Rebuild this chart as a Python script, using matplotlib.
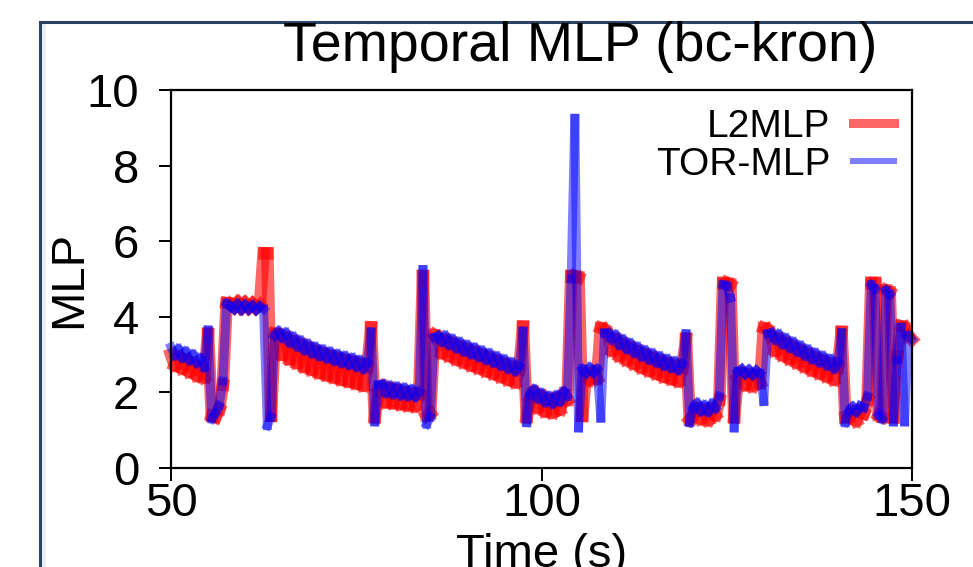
import numpy as np
import matplotlib
matplotlib.use("Agg")
import matplotlib.pyplot as plt
from matplotlib.collections import LineCollection
from matplotlib.lines import Line2D
from matplotlib.patches import Rectangle

plt.rcParams['font.family'] = ['Liberation Sans', 'DejaVu Sans']

# time axis: one sample every 0.5 s from 50 to 150
time_s = np.arange(50, 150.25, 0.5)

# TOR-MLP (blue)
tor_mlp = [
    3.20, 2.98, 3.15, 2.92, 3.08, 2.85, 3.00, 2.78, 2.90, 2.66,
    3.65, 1.30, 1.45, 1.65, 2.30, 4.35,
    4.28, 4.20, 4.34, 4.18, 4.32, 4.20, 4.30, 4.18, 4.28, 4.20,
    1.12, 1.35, 3.50,
    3.62, 3.45, 3.58, 3.32, 3.47, 3.22, 3.37, 3.12, 3.28, 3.04, 3.20, 2.96, 3.13,
    2.90, 3.07, 2.84, 3.01, 2.78, 2.96, 2.73, 2.91, 2.68, 2.85, 2.62, 2.78,
    3.60, 1.22, 2.20,
    2.22, 1.98, 2.18, 1.95, 2.15, 1.92, 2.12, 1.90, 2.08, 1.88, 2.02,
    5.25, 1.16, 1.35, 3.45,
    3.50, 3.34, 3.50, 3.26, 3.41, 3.17, 3.33, 3.09, 3.25, 3.01, 3.18, 2.94,
    3.10, 2.86, 3.03, 2.79, 2.95, 2.71, 2.87, 2.63, 2.79, 2.56, 2.70,
    3.62, 1.20, 1.95,
    2.08, 1.84, 1.98, 1.74, 1.90, 1.70, 1.92, 1.76, 2.02, 1.90,
    5.00, 9.25, 1.06, 2.62, 2.50, 2.66, 2.52, 2.62, 1.32, 3.58,
    3.58, 3.40, 3.52, 3.26, 3.40, 3.15, 3.30, 3.05, 3.20, 2.95, 3.11,
    2.87, 3.03, 2.79, 2.95, 2.71, 2.88, 2.65, 2.82, 2.59, 2.76,
    3.55, 1.20, 1.60,
    1.72, 1.50, 1.66, 1.48, 1.70, 1.58, 1.90,
    4.85, 4.82, 4.50, 1.06, 2.55,
    2.62, 2.48, 2.60, 2.46, 2.58, 2.50,
    1.76, 3.55,
    3.58, 3.40, 3.54, 3.28, 3.43, 3.18, 3.33, 3.08, 3.23, 2.98,
    3.13, 2.88, 3.04, 2.80, 2.96, 2.72, 2.88, 2.63, 2.79,
    3.58, 1.20, 1.50,
    1.62, 1.48, 1.64, 1.60, 1.90,
    4.85, 4.75, 1.40, 1.30, 4.70, 4.60, 1.22, 2.85, 3.72, 1.22, 3.50, 3.40,
]

# L2MLP (red)
l2mlp = [
    3.00, 2.72, 2.94, 2.64, 2.86, 2.55, 2.76, 2.45, 2.62, 2.40,
    3.55, 1.38, 1.35, 1.55, 2.20, 4.36,
    4.34, 4.26, 4.38, 4.24, 4.36, 4.24, 4.34, 4.24, 4.32, 5.68,
    5.68, 1.38, 3.55,
    3.52, 3.00, 3.45, 2.88, 3.35, 2.78, 3.26, 2.68, 3.17, 2.60, 3.09, 2.52, 3.02,
    2.46, 2.96, 2.40, 2.90, 2.34, 2.85, 2.29, 2.80, 2.24, 2.74, 2.18, 2.67,
    3.72, 1.34, 2.05,
    2.15, 1.74, 2.10, 1.72, 2.05, 1.69, 2.00, 1.66, 1.96, 1.64, 1.94,
    5.08, 1.38, 1.45, 3.52,
    3.45, 3.05, 3.38, 2.97, 3.29, 2.88, 3.21, 2.80, 3.13, 2.72, 3.06, 2.65,
    2.98, 2.57, 2.91, 2.50, 2.83, 2.42, 2.75, 2.34, 2.67, 2.27, 2.60,
    3.74, 1.34, 1.85,
    2.00, 1.60, 1.90, 1.50, 1.80, 1.47, 1.83, 1.55, 1.95, 1.80,
    5.08, 5.08, 5.04, 1.38, 2.50, 2.34, 2.53, 2.36, 3.70, 3.66,
    3.52, 3.11, 3.40, 2.97, 3.28, 2.86, 3.18, 2.76, 3.08, 2.66, 2.99,
    2.58, 2.91, 2.50, 2.83, 2.42, 2.76, 2.36, 2.70, 2.30, 2.64,
    3.42, 1.28, 1.40,
    1.57, 1.30, 1.53, 1.27, 1.55, 1.40, 1.80,
    4.90, 4.90, 4.85, 1.34, 2.40,
    2.50, 2.20, 2.47, 2.17, 2.45, 2.25,
    3.70, 3.66,
    3.50, 3.11, 3.41, 2.99, 3.30, 2.89, 3.20, 2.79, 3.10, 2.69,
    3.00, 2.59, 2.91, 2.51, 2.83, 2.43, 2.75, 2.34, 2.66,
    3.60, 1.34, 1.35,
    1.47, 1.25, 1.50, 1.45, 1.80,
    4.90, 4.90, 1.40, 1.35, 4.70, 4.65, 1.34, 2.95, 3.75, 3.72, 3.50, 3.40,
]

fig = plt.figure(figsize=(9.73, 5.67), dpi=100)
ax = fig.add_axes([171 / 973, 1 - 468 / 567, 741 / 973, 378 / 567])

# screenshot frame around the figure
fig.patches.append(Rectangle((41 / 973, -0.1), 5 / 973, 1.1 - 23 / 567, transform=fig.transFigure,
                             facecolor='#eceff3', edgecolor='none', zorder=0))
fig.patches.append(Rectangle((40 / 973, -0.1), 1.0, 1.1 - 22 / 567, transform=fig.transFigure,
                             fill=False, edgecolor='#2c4262', lw=2.2, zorder=1))


def segments(x, y):
    pts = np.column_stack([x, y])
    return np.stack([pts[:-1], pts[1:]], axis=1)


# drawn segment by segment so overlapping joints get darker (like the original)
red_lc = LineCollection(segments(time_s, l2mlp), colors='#ff0000', alpha=0.6, linewidths=9.0,
                        capstyle='projecting', clip_on=False)
blue_lc = LineCollection(segments(time_s, tor_mlp), colors='#0000ff', alpha=0.5, linewidths=6.5,
                         capstyle='projecting', clip_on=False)
ax.add_collection(red_lc)
ax.add_collection(blue_lc)

ax.set_xlim(50, 150)
ax.set_ylim(0, 10)
ax.set_xticks([50, 100, 150])
ax.set_yticks([0, 2, 4, 6, 8, 10])
ax.tick_params(axis='both', direction='out', length=9, width=1.4, labelsize=34)
ax.tick_params(axis='y', pad=14)
ax.tick_params(axis='x', pad=1)
for sp in ax.spines.values():
    sp.set_linewidth(1.6)

ax.set_ylabel('MLP', fontsize=34)
ax.yaxis.set_label_coords(-0.108, 0.5)
ax.set_xlabel('Time (s)', fontsize=34, labelpad=5)
fig.text(580 / 973, 1 - 47 / 567, 'Temporal MLP (bc-kron)', fontsize=40, ha='center', va='center')

handles = [Line2D([], [], color='#ff0000', alpha=0.6, lw=6.5),
           Line2D([], [], color='#0000ff', alpha=0.5, lw=4.4)]
ax.legend(handles, ['L2MLP', 'TOR-MLP'], loc='upper right', bbox_to_anchor=(0.976, 0.95),
          frameon=False, markerfirst=False, fontsize=28, handlelength=1.05,
          handletextpad=0.6, labelspacing=0.05, borderpad=0, borderaxespad=0)

fig.savefig('out.png', dpi=100)
